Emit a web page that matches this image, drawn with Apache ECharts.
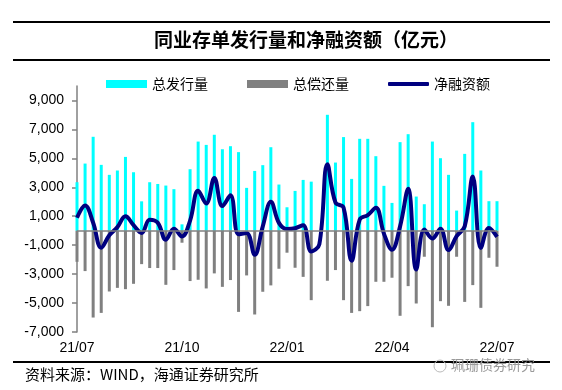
<!DOCTYPE html>
<html>
<head>
<meta charset="utf-8">
<script src="https://cdn.jsdelivr.net/npm/echarts@6/dist/echarts.min.js"></script>
<style>
html,body{margin:0;padding:0;background:#fff;}
#chart{width:562px;height:390px;}
</style>
</head>
<body>
<div id="chart"></div>
<script>
// Weekly categories (week start dates)
var categories = [
  '2021-07-05','2021-07-12','2021-07-19','2021-07-26','2021-08-02','2021-08-09','2021-08-16','2021-08-23','2021-08-30',
  '2021-09-06','2021-09-13','2021-09-20','2021-09-27','2021-10-04','2021-10-11','2021-10-18','2021-10-25',
  '2021-11-01','2021-11-08','2021-11-15','2021-11-22','2021-11-29','2021-12-06','2021-12-13','2021-12-20','2021-12-27',
  '2022-01-03','2022-01-10','2022-01-17','2022-01-24','2022-01-31','2022-02-07','2022-02-14','2022-02-21','2022-02-28',
  '2022-03-07','2022-03-14','2022-03-21','2022-03-28','2022-04-04','2022-04-11','2022-04-18','2022-04-25',
  '2022-05-02','2022-05-09','2022-05-16','2022-05-23','2022-05-30','2022-06-06','2022-06-13','2022-06-20','2022-06-27','2022-07-04'
];

// 总发行量 (亿元)
var issuance = [
  3350, 4640, 6490, 4550, 3860, 4160, 5100, 4040, 2030,
  3350, 3230, 3120, 2870, 440, 4250, 6160, 5930,
  6630, 5630, 5840, 5430, 2960, 4130, 4530, 5770, 3190,
  1620, 2750, 3510, 3390, null, 8010, 4710, 6470, 3580,
  6350, 6350, 5150, 3100, 1920, 6120, 6670, 2360,
  1830, 6160, 5010, 3860, 1390, 5310, 7500, 4160, 2040, 2040
];

// 总偿还量 (亿元, shown negative)
var repayment = [
  -2150, -2790, -6000, -5680, -4200, -3950, -4040, -3670, -2310,
  -2580, -2580, -3740, -2720, -830, -3480, -3390, -3990,
  -2950, -3880, -3410, -5610, -3090, -5790, -4220, -3780, -2630,
  -1520, -2560, -3190, -4800, null, -3460, -2720, -4800, -5680,
  -5560, -5210, -3530, -3530, -3250, -5880, -3830, -5030,
  -1800, -6670, -4870, -5190, -1800, -4920, -3760, -5330, -1870, -2490
];

// 净融资额 (亿元)
var netFinancing = [
  900, 1750, 550, -1180, -320, 250, 1000, 380, -150,
  760, 550, -620, 140, -400, 700, 2760, 1880,
  3650, 1700, 2450, -250, -150, -1670, 300, 2000, 540,
  110, 170, 380, -1430, -950, 4600, 1950, 1600, -2070,
  770, 1080, 1580, -200, -1310, 300, 2900, -2680,
  80, -540, 130, -1340, -380, 300, 3740, -1200, 190, -430
];

var yTickValues = [-7000, -5000, -3000, -1000, 1000, 3000, 5000, 7000, 9000];

var seriesNames = ['总发行量', '总偿还量', '净融资额'];
var titleText = '同业存单发行量和净融资额（亿元）';
var sourceText = '资料来源：WIND，海通证券研究所';
var watermarkText = '珮珊债券研究';

var chart = echarts.init(document.getElementById('chart'), null, {renderer: 'canvas'});

var cjk = '"Noto Sans CJK SC", sans-serif';
var latin = '"Liberation Sans", Arial, sans-serif';

var option = {
  animation: false,
  backgroundColor: '#ffffff',
  grid: {left: 77, right: 65, top: 86, bottom: 58},
  legend: [
    {data: [seriesNames[0]], left: 101, top: 72, itemWidth: 41, itemHeight: 8, icon: 'rect',
     textStyle: {fontFamily: cjk, fontSize: 14, color: '#000'}},
    {data: [seriesNames[1]], left: 242, top: 72, itemWidth: 41, itemHeight: 8, icon: 'rect',
     textStyle: {fontFamily: cjk, fontSize: 14, color: '#000'}},
    {data: [seriesNames[2]], left: 383, top: 72, itemWidth: 41, itemHeight: 4, icon: 'roundRect',
     textStyle: {fontFamily: cjk, fontSize: 14, color: '#000'}}
  ],
  xAxis: {
    type: 'category',
    data: categories,
    boundaryGap: false,
    position: 'bottom',
    axisLine: {show: false, onZero: false},
    axisTick: {show: false},
    splitLine: {show: false},
    axisLabel: {
      interval: 12,
      margin: 9,
      fontFamily: latin,
      fontSize: 14,
      color: '#000',
      formatter: function (v) { return v.slice(2, 4) + '/' + v.slice(5, 7); }
    }
  },
  yAxis: {
    type: 'value',
    min: -7000,
    max: 10000,
    axisLine: {show: true, lineStyle: {color: '#808080', width: 1.5}},
    axisTick: {show: true, length: 5, customValues: yTickValues, lineStyle: {color: '#808080', width: 1.5}},
    splitLine: {show: false},
    axisLabel: {
      customValues: yTickValues,
      margin: 13,
      fontFamily: latin,
      fontSize: 14,
      color: '#000',
      formatter: function (v) { return Number(v).toLocaleString('en-US'); }
    }
  },
  series: [
    {
      name: seriesNames[0], type: 'bar', data: issuance, barWidth: 3, barGap: '-100%',
      itemStyle: {color: '#00FFFF'},
      markLine: {
        silent: true, symbol: 'none', label: {show: false},
        lineStyle: {color: '#808080', width: 1.5, type: 'solid'},
        data: [{yAxis: 0}]
      }
    },
    {
      name: seriesNames[1], type: 'bar', data: repayment, barWidth: 3, barGap: '-100%',
      itemStyle: {color: '#808080'}
    },
    {
      name: seriesNames[2], type: 'line', data: netFinancing, smooth: 0.4,
      showSymbol: false, symbol: 'none',
      lineStyle: {color: '#000080', width: 4},
      itemStyle: {color: '#000080'}
    }
  ],
  graphic: [
    {type: 'line', shape: {x1: 13, y1: 22, x2: 550, y2: 22}, style: {stroke: '#000', lineWidth: 2}},
    {type: 'line', shape: {x1: 13, y1: 60, x2: 550, y2: 60}, style: {stroke: '#000', lineWidth: 2}},
    {type: 'text', left: 154, top: 30, style: {text: titleText, fontFamily: cjk, fontSize: 19, fontWeight: 'bold', fill: '#000'}},
    {type: 'line', shape: {x1: 13, y1: 362, x2: 550, y2: 362}, style: {stroke: '#000', lineWidth: 2}},
    {type: 'text', left: 25, top: 367, style: {text: sourceText, fontFamily: cjk, fontSize: 15, fill: '#000'}},
    {type: 'circle', shape: {cx: 440, cy: 366, r: 6}, style: {fill: 'none', stroke: '#bbbbbb', lineWidth: 1}},
    {type: 'text', left: 451, top: 358, style: {text: watermarkText, fontFamily: cjk, fontSize: 14, fill: '#9a9a9a'}}
  ]
};

chart.setOption(option);
</script>
</body>
</html>
